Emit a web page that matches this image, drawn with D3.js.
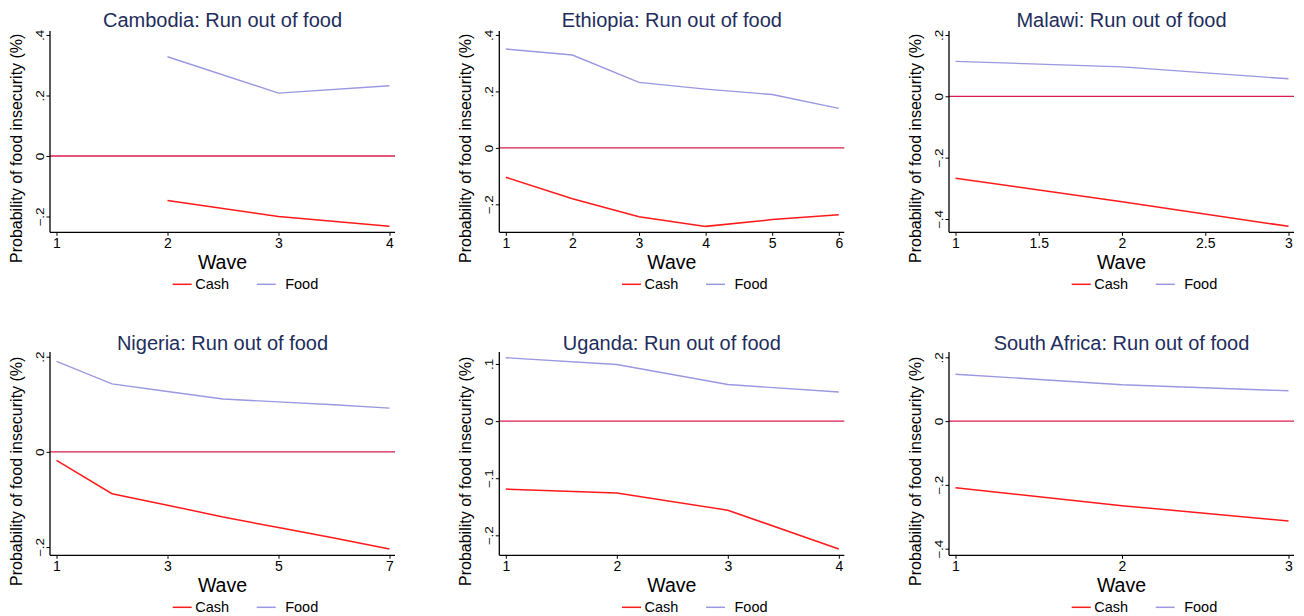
<!DOCTYPE html>
<html>
<head>
<meta charset="utf-8">
<script src="https://cdn.jsdelivr.net/npm/d3@7"></script>
<style>
  html, body { margin: 0; padding: 0; background: #ffffff; }
  svg { display: block; font-family: "Liberation Sans", Arial, Helvetica, sans-serif; }
</style>
</head>
<body>
<svg id="chart" width="1304" height="616"></svg>
<script>
// Predicted effect of transfers on the probability of running out of food, by wave
const cambodiaWaves = [2, 3, 4];
const cambodiaCash  = [-0.147, -0.200, -0.232];
const cambodiaFood  = [0.328, 0.208, 0.232];

const ethiopiaWaves = [1, 2, 3, 4, 5, 6];
const ethiopiaCash  = [-0.104, -0.180, -0.244, -0.278, -0.254, -0.237];
const ethiopiaFood  = [0.350, 0.329, 0.232, 0.208, 0.189, 0.140];

const malawiWaves = [1, 2, 3];
const malawiCash  = [-0.267, -0.344, -0.424];
const malawiFood  = [0.114, 0.096, 0.057];

const nigeriaWaves = [1, 2, 3, 4, 5, 6, 7];
const nigeriaCash  = [-0.018, -0.088, -0.112, -0.137, -0.159, -0.181, -0.204];
const nigeriaFood  = [0.190, 0.143, 0.127, 0.111, 0.105, 0.099, 0.092];

const ugandaWaves = [1, 2, 3, 4];
const ugandaCash  = [-0.119, -0.126, -0.156, -0.224];
const ugandaFood  = [0.111, 0.099, 0.064, 0.051];

const southAfricaWaves = [1, 2, 3];
const southAfricaCash  = [-0.209, -0.265, -0.313];
const southAfricaFood  = [0.147, 0.114, 0.095];

// Axis ticks
const cambodiaXTicks = [1, 2, 3, 4];
const cambodiaYTicks = [-0.2, 0, 0.2, 0.4];
const ethiopiaXTicks = [1, 2, 3, 4, 5, 6];
const ethiopiaYTicks = [-0.2, 0, 0.2, 0.4];
const malawiXTicks = [1, 1.5, 2, 2.5, 3];
const malawiYTicks = [-0.4, -0.2, 0, 0.2];
const nigeriaXTicks = [1, 3, 5, 7];
const nigeriaYTicks = [-0.2, 0, 0.2];
const ugandaXTicks = [1, 2, 3, 4];
const ugandaYTicks = [-0.2, -0.1, 0, 0.1];
const southAfricaXTicks = [1, 2, 3];
const southAfricaYTicks = [-0.4, -0.2, 0, 0.2];

const seriesNames = ["Cash", "Food"];
const COLORS = { Cash: "#ff1a1a", Food: "#9a98e0", zero: "#d81e4c", title: "#1e2d5c" };

// Panel layout: column left edge, row, axis extents
const columns = [50, 499.3, 949];
const rows = [
  { top: 31, bottom: 232.3, titleY: 27 },
  { top: 352, bottom: 555.3, titleY: 349.5 }
];
const plotWidth = 345;

const panels = [
  { name: "Cambodia",     col: 0, row: 0, waves: cambodiaWaves, cash: cambodiaCash, food: cambodiaFood,
    xDomain: [1, 4], yDomain: [-0.2522, 0.4132], xTicks: cambodiaXTicks, yTicks: cambodiaYTicks },
  { name: "Ethiopia",     col: 1, row: 0, waves: ethiopiaWaves, cash: ethiopiaCash, food: ethiopiaFood,
    xDomain: [1, 6], yDomain: [-0.299, 0.414], xTicks: ethiopiaXTicks, yTicks: ethiopiaYTicks },
  { name: "Malawi",       col: 2, row: 0, waves: malawiWaves, cash: malawiCash, food: malawiFood,
    xDomain: [1, 3], yDomain: [-0.4434, 0.2129], xTicks: malawiXTicks, yTicks: malawiYTicks },
  { name: "Nigeria",      col: 0, row: 1, waves: nigeriaWaves, cash: nigeriaCash, food: nigeriaFood,
    xDomain: [1, 7], yDomain: [-0.2174, 0.2099], xTicks: nigeriaXTicks, yTicks: nigeriaYTicks },
  { name: "Uganda",       col: 1, row: 1, waves: ugandaWaves, cash: ugandaCash, food: ugandaFood,
    xDomain: [1, 4], yDomain: [-0.235, 0.121], xTicks: ugandaXTicks, yTicks: ugandaYTicks },
  { name: "South Africa", col: 2, row: 1, waves: southAfricaWaves, cash: southAfricaCash, food: southAfricaFood,
    xDomain: [1, 3], yDomain: [-0.4207, 0.2166], xTicks: southAfricaXTicks, yTicks: southAfricaYTicks }
];

// Stata-style numeric labels: no leading zero, true minus sign
function fmtY(v) {
  if (Math.abs(v) < 1e-9) return "0";
  const s = String(+Math.abs(v).toFixed(3)).replace(/^0\./, ".");
  return (v < 0 ? "\u2212" : "") + s;
}

const svg = d3.select("#chart");

panels.forEach(p => {
  const left = columns[p.col];
  const right = left + plotWidth;
  const r = rows[p.row];

  const x = d3.scaleLinear().domain(p.xDomain).range([left + 6.5, right - 5.5]);
  const y = d3.scaleLinear().domain(p.yDomain).range([r.bottom, r.top]);

  const g = svg.append("g");

  // Title
  g.append("text")
    .attr("x", (left + right) / 2)
    .attr("y", r.titleY)
    .attr("text-anchor", "middle")
    .attr("font-size", 20)
    .attr("fill", COLORS.title)
    .text(p.name + ": Run out of food");

  // Zero reference line
  g.append("line")
    .attr("x1", left).attr("x2", right)
    .attr("y1", y(0)).attr("y2", y(0))
    .attr("stroke", COLORS.zero).attr("stroke-width", 1.3);

  // Series lines
  const line = d3.line().x(d => x(d[0])).y(d => y(d[1]));
  const foodPts = p.waves.map((w, i) => [w, p.food[i]]);
  const cashPts = p.waves.map((w, i) => [w, p.cash[i]]);
  g.append("path").datum(foodPts).attr("d", line)
    .attr("fill", "none").attr("stroke", COLORS.Food).attr("stroke-width", 1.4);
  g.append("path").datum(cashPts).attr("d", line)
    .attr("fill", "none").attr("stroke", COLORS.Cash).attr("stroke-width", 1.5);

  // Y axis
  const yAxis = g.append("g").attr("transform", `translate(${left},0)`)
    .call(d3.axisLeft(y).tickValues(p.yTicks).tickSize(3.5).tickFormat(""));
  yAxis.select(".domain").attr("d", `M0,${r.top}V${r.bottom}`).attr("stroke", "#000").attr("stroke-width", 1.3);
  yAxis.selectAll(".tick line").attr("stroke", "#000").attr("stroke-width", 1);
  yAxis.selectAll(".tick").append("text")
    .attr("transform", "translate(-6,0) rotate(-90) scale(1,0.8)")
    .attr("text-anchor", "middle")
    .attr("fill", "#000")
    .attr("font-size", 13.5)
    .text(d => fmtY(d));

  // X axis
  const xAxis = g.append("g").attr("transform", `translate(0,${r.bottom})`)
    .call(d3.axisBottom(x).tickValues(p.xTicks).tickSize(3.5).tickFormat(""));
  xAxis.select(".domain").attr("d", `M${left},0H${right}`).attr("stroke", "#000").attr("stroke-width", 1.3);
  xAxis.selectAll(".tick line").attr("stroke", "#000").attr("stroke-width", 1);
  xAxis.selectAll(".tick").append("text")
    .attr("y", 15.5)
    .attr("text-anchor", "middle")
    .attr("fill", "#000")
    .attr("font-size", 14)
    .text(d => String(d));

  // Axis titles
  g.append("text")
    .attr("transform", `translate(${left - 28},${r.bottom - 84}) rotate(-90)`)
    .attr("text-anchor", "middle")
    .attr("font-size", 16)
    .attr("fill", "#000")
    .text("Probability of food insecurity (%)");
  g.append("text")
    .attr("x", (left + right) / 2)
    .attr("y", r.bottom + 36.3)
    .attr("text-anchor", "middle")
    .attr("font-size", 19.5)
    .attr("fill", "#000")
    .text("Wave");

  // Legend
  const legY = r.bottom + 52;
  const legItems = [
    { key: "Cash", x0: left + 122.7 },
    { key: "Food", x0: left + 206.7 }
  ];
  seriesNames.forEach((k, i) => {
    const it = legItems[i];
    g.append("line")
      .attr("x1", it.x0).attr("x2", it.x0 + 19)
      .attr("y1", legY).attr("y2", legY)
      .attr("stroke", COLORS[k]).attr("stroke-width", 1.5);
    g.append("text")
      .attr("x", it.x0 + (k === "Cash" ? 22.5 : 28.5))
      .attr("y", r.bottom + 57)
      .attr("font-size", 14.5)
      .attr("fill", "#000")
      .text(k);
  });
});
</script>
</body>
</html>
